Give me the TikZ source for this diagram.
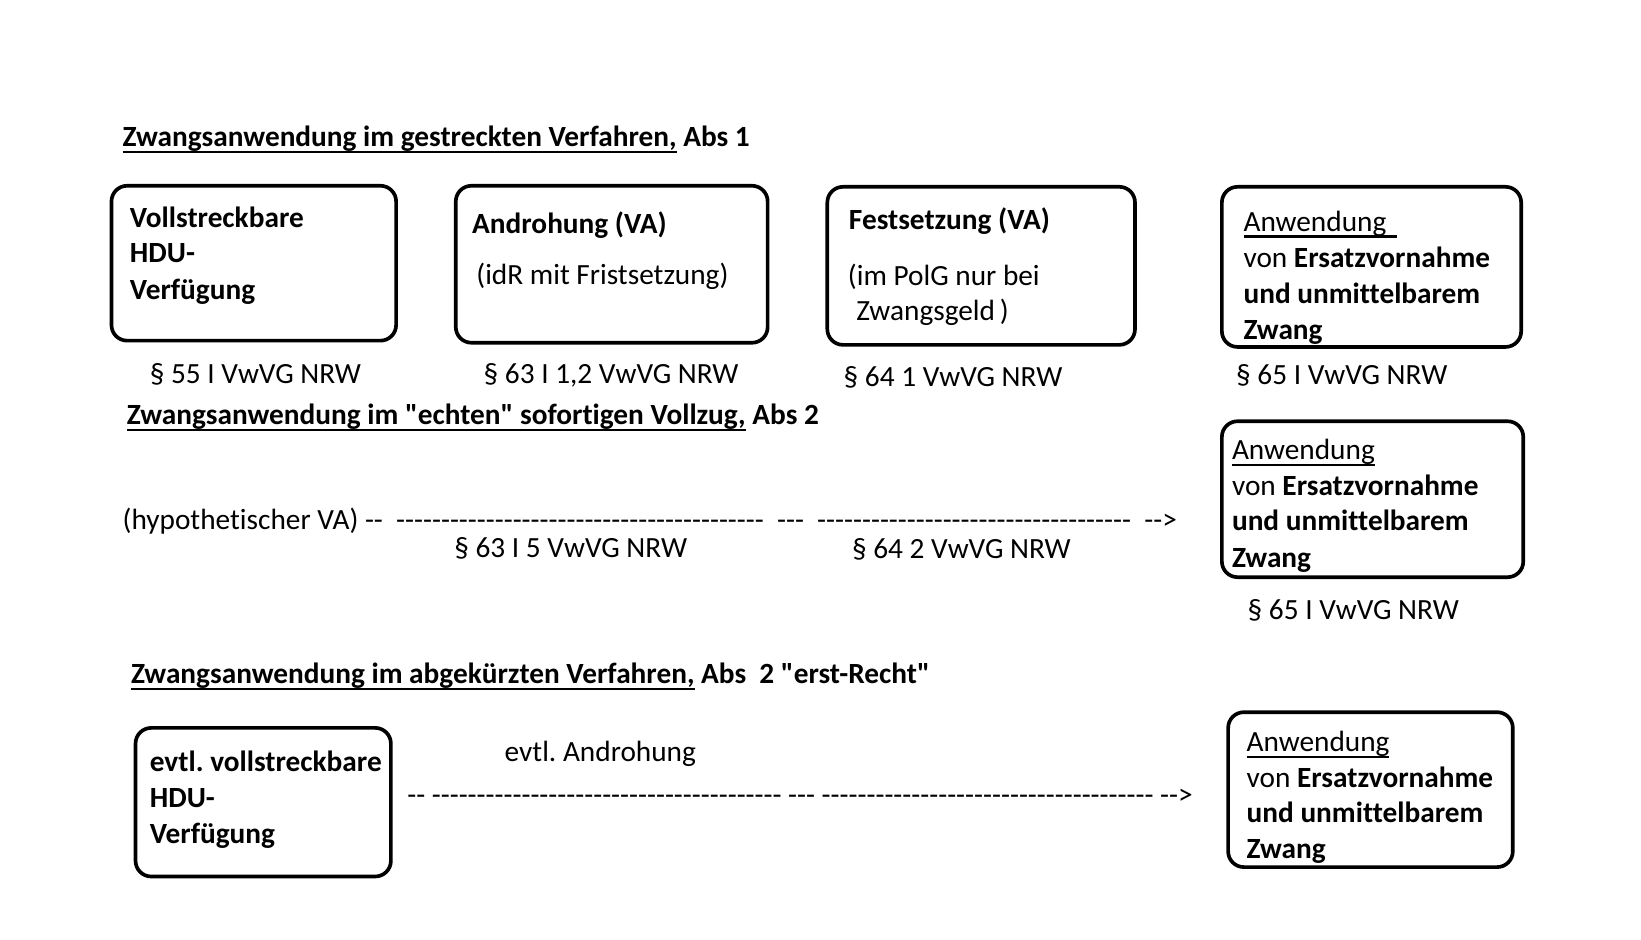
\documentclass[tikz,border=0pt]{standalone}
\usepackage{fontspec}
\setmainfont{Carlito}[Ligatures={TeXOff,NoCommon}]
\usetikzlibrary{positioning}
\frenchspacing
\newcommand{\ulword}[1]{\setbox0=\hbox{#1}\rlap{\rule[-0.22em]{\wd0}{0.08em}}\box0\relax}
\newcommand{\hyph}[1]{\foreach \k in {1,...,#1}{-}}

\begin{document}
\begin{tikzpicture}[x=1pt,y=-1pt,
    font=\fontsize{28}{34.5}\selectfont,
    box/.style={draw, line width=3.5pt, rounded corners=15pt, inner sep=0pt},
    txt/.style={anchor=base west, inner sep=0pt}]
  \useasboundingbox (0,0) rectangle (1568,898);

  % gestrecktes Verfahren
  \node[txt] (titelA) at (117,140) {\textbf{\ulword{Zwangsanwendung im gestreckten Verfahren,} Abs 1}};

  \node[box, minimum width=272pt, minimum height=148pt] (hdu) at (242.5,251.5) {};
  \node[txt] (hduA) at (124,217) {\textbf{Vollstreckbare}};
  \node[txt] (hduB) at (124,251) {\textbf{HDU-}};
  \node[txt] (hduC) at (124,286) {\textbf{Verfügung}};

  \node[box, minimum width=298pt, minimum height=150pt] (andr) at (584.5,252.5) {};
  \node[txt] (andrA) at (451,223) {\textbf{Androhung (VA)}};
  \node[txt] (andrB) at (455,272) {(idR mit Fristsetzung)};

  \node[box, minimum width=294pt, minimum height=151pt] (fest) at (937.5,254) {};
  \node[txt] (festA) at (811,219) {\textbf{Festsetzung (VA)}};
  \node[txt] (festB) at (810,273) {(im PolG nur bei};
  \node[txt] (festC) at (818,306) {Zwangsgeld\,)};

  \node[box, minimum width=286pt, minimum height=153pt] (anwA) at (1310.5,255) {};
  \node[txt] (anwAa) at (1188,221) {\ulword{Anwendung\hspace{0.35em}}};
  \node[txt] (anwAb) at (1188,256) {von \textbf{Ersatzvornahme}};
  \node[txt] (anwAc) at (1188,290) {\textbf{und unmittelbarem}};
  \node[txt] (anwAd) at (1188,324) {\textbf{Zwang}};

  \node[txt] (parA) at (143,366) {§ 55 I VwVG NRW};
  \node[txt] (parB) at (462,366) {§ 63 I 1,2 VwVG NRW};
  \node[txt] (parC) at (806,369) {§ 64 1 VwVG NRW};
  \node[txt] (parD) at (1181,367) {§ 65 I VwVG NRW};

  % sofortiger Vollzug
  \node[txt] (titelB) at (121,406) {\textbf{\ulword{Zwangsanwendung im "echten" sofortigen Vollzug,} Abs 2}};

  \node[txt] (hypo) at (117,506) {(hypothetischer VA) --\ \ \hyph{41}\ \ ---\ \ \hyph{35}\ \ -->};
  \node[txt] (parE) at (434,533) {§ 63 I 5 VwVG NRW};
  \node[txt] (parF) at (814,534) {§ 64 2 VwVG NRW};

  \node[box, minimum width=288pt, minimum height=149pt] (anwB) at (1311.5,477) {};
  \node[txt] (anwBa) at (1177,439) {\ulword{Anwendung}};
  \node[txt] (anwBb) at (1177,473) {von \textbf{Ersatzvornahme}};
  \node[txt] (anwBc) at (1177,507) {\textbf{und unmittelbarem}};
  \node[txt] (anwBd) at (1177,542) {\textbf{Zwang}};
  \node[txt] (parG) at (1192,592) {§ 65 I VwVG NRW};

  % abgekuerztes Verfahren
  \node[txt] (titelC) at (125,653) {\textbf{\ulword{Zwangsanwendung im abgekürzten Verfahren,} Abs\ \ 2 "erst-Recht"}};

  \node[box, minimum width=244pt, minimum height=142pt] (evtl) at (251.5,766.5) {};
  \node[txt] (evtlA) at (143,737) {\textbf{evtl. vollstreckbare}};
  \node[txt] (evtlB) at (143,772) {\textbf{HDU-}};
  \node[txt] (evtlC) at (143,806) {\textbf{Verfügung}};

  \node[txt] (evtlAndr) at (482,728) {evtl. Androhung};
  \node[txt] (strecke) at (389,769) {-- \hyph{39} --- \hyph{37} -->};

  \node[box, minimum width=272pt, minimum height=148pt] (anwC) at (1309.5,754.5) {};
  \node[txt] (anwCa) at (1191,718) {\ulword{Anwendung}};
  \node[txt] (anwCb) at (1191,752) {von \textbf{Ersatzvornahme}};
  \node[txt] (anwCc) at (1191,786) {\textbf{und unmittelbarem}};
  \node[txt] (anwCd) at (1191,820) {\textbf{Zwang}};
\end{tikzpicture}
\end{document}
